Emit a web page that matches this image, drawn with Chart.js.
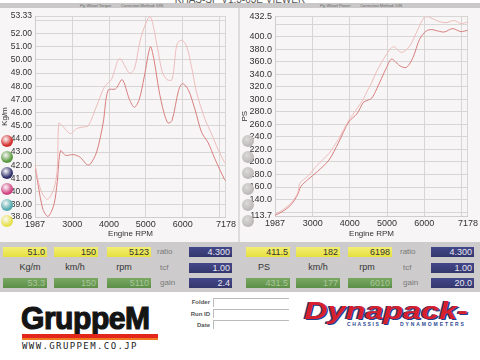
<!DOCTYPE html>
<html>
<head>
<meta charset="utf-8">
<script src="https://cdn.jsdelivr.net/npm/chart.js@4.4.0/dist/chart.umd.min.js"></script>
<style>
  html, body { margin: 0; padding: 0; }
  body { width: 480px; height: 360px; position: relative; overflow: hidden; background: #fff;
         font-family: "Liberation Sans", Arial, sans-serif; }
  .abs { position: absolute; }
  #title { left: 0; top: -6px; width: 480px; text-align: center; font-size: 10px; color: #555; }
  #band { left: 0; top: 3px; width: 480px; height: 5px; background: #cac8c8; }
  .bandtxt { position: absolute; top: 3px; font-size: 4px; line-height: 5px; color: #666; white-space: pre; }
  .panel { background: #f7f5f5; }
  .dot { position: absolute; width: 12px; height: 12px; border-radius: 50%; }
  #data { left: 0; top: 242px; width: 480px; height: 50px; background: #cdcbcb; }
  .box { position: absolute; height: 10px; font-size: 9px; line-height: 10px; text-align: right;
         padding-right: 2px; box-sizing: border-box; }
  .yel { background: linear-gradient(#f3ef74, #e6df3e); color: #333; }
  .grn { background: linear-gradient(#79a862, #5d8f48); color: #aac79a; }
  .nav { background: linear-gradient(#44478a, #34376c); color: #e6e6f2; }
  .lbl { position: absolute; font-size: 9px; line-height: 10px; color: #333; text-align: center; }
  .sub { position: absolute; font-size: 8px; line-height: 10px; color: #7a7a7a; }
  .fl { position: absolute; width: 30px; text-align: right; font-size: 6px; line-height: 8px; color: #555; font-weight: bold; }
  .fbox { position: absolute; left: 213px; width: 75px; height: 8px; border-left: 1px solid #bbb; border-top: 1px solid #bbb; }
</style>
</head>
<body>
<div id="title" class="abs">KHAS-SP V1.3-03E VIEWER</div>
<div id="band" class="abs"></div>
<div class="bandtxt" style="left:80px;">Fly Wheel Torque:        Correction Method: DIN</div>
<div class="bandtxt" style="left:320px;">Fly Wheel Power:        Correction Method: DIN</div>

<div class="abs panel" style="left:0; top:8px; width:238px; height:234px;"></div>
<div class="abs panel" style="left:240px; top:8px; width:240px; height:234px;"></div>
<div class="abs" style="left:238px; top:8px; width:2px; height:234px; background:#dedcdc;"></div>

<div class="abs" style="left:0; top:8px;"><canvas id="torque" width="238" height="232"></canvas></div>
<div class="abs" style="left:240px; top:8px;"><canvas id="power" width="240" height="232"></canvas></div>

<div id="dots"></div>

<div id="data" class="abs"></div>
<div id="cells"></div>

<div class="fl" style="left:180px; top:298px;">Folder</div>
<div class="fl" style="left:180px; top:310px;">Run ID</div>
<div class="fl" style="left:180px; top:321px;">Date</div>
<div class="fbox" style="top:298px;"></div>
<div class="fbox" style="top:309px;"></div>
<div class="fbox" style="top:320px;"></div>

<div class="abs" style="left:21px; top:303px; font-size:31px; line-height:31px; font-weight:bold; letter-spacing:-0.5px; color:#141414; -webkit-text-stroke:1.2px #141414; transform:scaleX(0.97); transform-origin:left top;">GruppeM</div>
<div class="abs" style="left:22px; top:334px; width:136px; height:4px; background:#e3261c;"></div>
<div class="abs" style="left:22px; top:338px; width:136px; height:2px; background:#f07a22;"></div>
<div class="abs" style="left:22px; top:342px; font-family:'DejaVu Sans Mono', monospace; font-size:9px; line-height:9px; letter-spacing:1.4px; color:#222;">WWW.GRUPPEM.CO.JP</div>

<div class="abs" style="left:304px; top:299px; font-size:24px; line-height:24px; font-weight:bold; font-style:italic; color:#d8202c; text-shadow:1px 1px 0 #23408c, -1px 0 0 #23408c; transform:scaleX(1.35); transform-origin:left top;">Dynapack-</div>
<div class="abs" style="left:347px; top:321px; font-size:5px; line-height:6px; font-weight:bold; letter-spacing:1.6px; color:#2c4a94;">CHASSIS</div>
<div class="abs" style="left:400px; top:321px; font-size:5px; line-height:6px; font-weight:bold; letter-spacing:1.9px; color:#2c4a94;">DYNAMOMETERS</div>

<script>
// fly wheel torque (Kg/m) - two runs
const torqueRpmA = [1987, 2145, 2324, 2501, 2592, 2635, 2726, 2948, 3127, 3304, 3437, 3662, 3884, 4063, 4286, 4553, 4687, 4866, 5110, 5311, 5444, 5578, 5712, 5846, 5980, 6113, 6247, 6381, 6606, 6783, 6962, 7141, 7178];
const torqueA    = [42.0, 40.1, 39.4, 40.2, 41.7, 45.2, 45.0, 44.4, 44.8, 44.9, 45.0, 46.5, 48.0, 48.5, 50.1, 49.0, 49.3, 51.7, 53.3, 51.0, 49.1, 48.5, 48.5, 51.2, 51.5, 51.0, 49.4, 47.5, 45.5, 44.4, 43.2, 42.2, 42.1];
const torqueRpmB = [1987, 2190, 2340, 2501, 2592, 2680, 2814, 3036, 3215, 3394, 3483, 3662, 3839, 3973, 4179, 4358, 4553, 4687, 4821, 4955, 5123, 5222, 5356, 5490, 5605, 5712, 5891, 5998, 6159, 6338, 6515, 6694, 6873, 7141, 7178];
const torqueB    = [42.0, 38.75, 38.1, 39.0, 40.75, 43.1, 42.75, 42.8, 42.6, 42.05, 42.05, 43.0, 45.2, 47.7, 47.8, 48.5, 47.0, 46.4, 47.0, 48.7, 51.0, 50.0, 47.7, 46.0, 45.2, 45.4, 47.7, 48.2, 47.7, 46.2, 44.5, 43.7, 42.5, 40.9, 40.8];

// fly wheel power (PS) - two runs
const powerRpmA = [1987, 2195, 2416, 2594, 2655, 2860, 3126, 3437, 3704, 3970, 4191, 4369, 4457, 4590, 4723, 4989, 5168, 5389, 5610, 5833, 6010, 6142, 6365, 6586, 6807, 6986, 7164];
const powerA    = [116, 123.7, 134.3, 150, 166, 176.7, 195, 213.6, 237.4, 266.4, 285, 301, 312, 327, 345, 372, 384, 375, 385, 412, 431.5, 431, 425, 422.5, 426, 421, 423.5];
const powerRpmB = [1987, 2195, 2416, 2594, 2682, 2860, 3126, 3437, 3704, 3970, 4191, 4369, 4457, 4590, 4723, 4989, 5122, 5344, 5522, 5700, 5876, 6054, 6198, 6365, 6541, 6765, 6986, 7164];
const powerB    = [115, 121, 131.6, 147.5, 160.8, 171.3, 184.6, 203, 232, 264, 277, 295.6, 298, 302, 316.7, 351, 364.3, 353.7, 351, 367, 396, 409.2, 411.5, 409.2, 407.6, 413, 408.2, 410.3];

const rpmTicks = [1987, 3000, 4000, 5000, 6000, 7000, 7178];
const rpmTickLabels = ['1987', '3000', '4000', '5000', '6000', '', '7178'];
const torqueTicks = [38.06, 39, 40, 41, 42, 43, 44, 45, 46, 47, 48, 49, 50, 51, 52, 53, 53.33];
const torqueTickLabels = ['38.06', '39.00', '40.00', '41.00', '42.00', '43.00', '44.00', '45.00', '46.00', '47.00', '48.00', '49.00', '50.00', '51.00', '52.00', '', '53.33'];
const powerTicks = [113.7, 120, 140, 160, 180, 200, 220, 240, 260, 280, 300, 320, 340, 360, 380, 400, 420, 432.5];
const powerTickLabels = ['113.7', '', '140.0', '160.0', '180.0', '200.0', '220.0', '240.0', '260.0', '280.0', '300.0', '320.0', '340.0', '360.0', '380.0', '400.0', '', '432.5'];

const lightColor = '#eebcbc';
const darkColor = '#d87e7e';

function toPoints(xs, ys) {
    return xs.map((x, i) => ({ x: x, y: ys[i] }));
}

function makeChart(id, seriesA, seriesB, yTicks, yLabels, yTitle, opts) {
    const ctx = document.getElementById(id).getContext('2d');
    return new Chart(ctx, {
        type: 'line',
        data: {
            datasets: [{
                data: seriesA,
                borderColor: lightColor,
                borderWidth: 1,
                pointRadius: 0,
                tension: 0.3
            }, {
                data: seriesB,
                borderColor: darkColor,
                borderWidth: 1,
                pointRadius: 0,
                tension: 0.3
            }]
        },
        options: {
            responsive: false,
            animation: false,
            layout: { padding: { top: opts.top, right: 10, bottom: 0, left: 0 } },
            plugins: { legend: { display: false }, tooltip: { enabled: false } },
            scales: {
                x: {
                    type: 'linear',
                    min: rpmTicks[0],
                    max: rpmTicks[rpmTicks.length - 1],
                    afterBuildTicks: (scale) => { scale.ticks = rpmTicks.map(v => ({ value: v })); },
                    afterFit: (scale) => { scale.height = opts.xHeight; },
                    ticks: {
                        autoSkip: false,
                        maxRotation: 0,
                        padding: 2,
                        color: '#333',
                        font: { family: 'Liberation Sans', size: 9 },
                        callback: (value, index) => rpmTickLabels[index]
                    },
                    grid: { color: '#d8d5d5', drawTicks: false },
                    border: { color: '#d0cdcd' },
                    title: {
                        display: true,
                        text: 'Engine RPM',
                        color: '#333',
                        padding: { top: 0, bottom: 1 },
                        font: { family: 'Liberation Sans', size: 8 }
                    }
                },
                y: {
                    min: yTicks[0],
                    max: yTicks[yTicks.length - 1],
                    afterBuildTicks: (scale) => { scale.ticks = yTicks.map(v => ({ value: v })); },
                    afterFit: (scale) => { scale.width = opts.yWidth; },
                    ticks: {
                        autoSkip: false,
                        padding: 3,
                        color: '#333',
                        font: { family: 'Liberation Sans', size: opts.yFont },
                        callback: (value, index) => yLabels[index]
                    },
                    grid: { color: '#d8d5d5', drawTicks: false },
                    border: { color: '#d0cdcd' },
                    title: {
                        display: true,
                        text: yTitle,
                        color: '#333',
                        padding: 0,
                        font: { family: 'Liberation Sans', size: 8 }
                    }
                }
            }
        }
    });
}

makeChart('torque', toPoints(torqueRpmA, torqueA), toPoints(torqueRpmB, torqueB),
    torqueTicks, torqueTickLabels, 'Kg/m', { top: 5, xHeight: 23, yWidth: 35, yFont: 8.5 });
makeChart('power', toPoints(powerRpmA, powerA), toPoints(powerRpmB, powerB),
    powerTicks, powerTickLabels, 'PS', { top: 7, xHeight: 24, yWidth: 35, yFont: 9 });

// run selector dots
const dotColors = ['#d3302e', '#5c9a42', '#2f2f6c', '#d24483', '#55abae', '#e7e04a'];
const dotRows = [141, 157, 173, 189, 205, 221];
const dots = document.getElementById('dots');
dotRows.forEach((y, i) => {
    const d1 = document.createElement('div');
    d1.className = 'dot';
    d1.style.left = '1px';
    d1.style.top = (y - 6) + 'px';
    d1.style.background = `radial-gradient(circle at 40% 35%, #ffffff55, ${dotColors[i]} 60%)`;
    dots.appendChild(d1);
    const d2 = document.createElement('div');
    d2.className = 'dot';
    d2.style.left = '242px';
    d2.style.top = (y - 6) + 'px';
    d2.style.background = 'radial-gradient(circle at 40% 35%, #dcdada, #bdb9b9 65%)';
    dots.appendChild(d2);
});

// readout cells
const cells = document.getElementById('cells');
function cell(cls, x, y, w, text) {
    const el = document.createElement('div');
    el.className = cls;
    el.style.left = x + 'px';
    el.style.top = y + 'px';
    if (w) el.style.width = w + 'px';
    el.textContent = text;
    cells.appendChild(el);
}
const leftCur = ['51.0', '150', '5123'];
const leftMax = ['53.3', '150', '5110'];
const leftUnits = ['Kg/m', 'km/h', 'rpm'];
const rightCur = ['411.5', '182', '6198'];
const rightMax = ['431.5', '177', '6010'];
const rightUnits = ['PS', 'km/h', 'rpm'];
const setup = [['ratio', '4.300'], ['tcf', '1.00'], ['gain', '2.4']];
const setupRight = [['ratio', '4.300'], ['tcf', '1.00'], ['gain', '20.0']];

const leftX = [3, 54, 107];
const rightX = [246, 296, 348];
const unitCenters = [[30, 75, 124], [264, 318, 367]];
[[leftX, leftCur, leftMax, leftUnits, setup, 157, 189], [rightX, rightCur, rightMax, rightUnits, setupRight, 400, 431]].forEach((side, s) => {
    const [xs, cur, max, units, st, lx, nx] = side;
    xs.forEach((x, i) => {
        cell('box yel', x, 247, 44, cur[i]);
        cell('box grn', x, 278, 44, max[i]);
        cell('lbl', unitCenters[s][i] - 20, 262, 40, units[i]);
    });
    st.forEach(([name, val], i) => {
        cell('sub', lx + (i === 0 ? 0 : 3), 247 + i * 15.5, 0, name);
        cell('box nav', nx, 247 + i * 15.5, 43, val);
    });
});
</script>
</body>
</html>
